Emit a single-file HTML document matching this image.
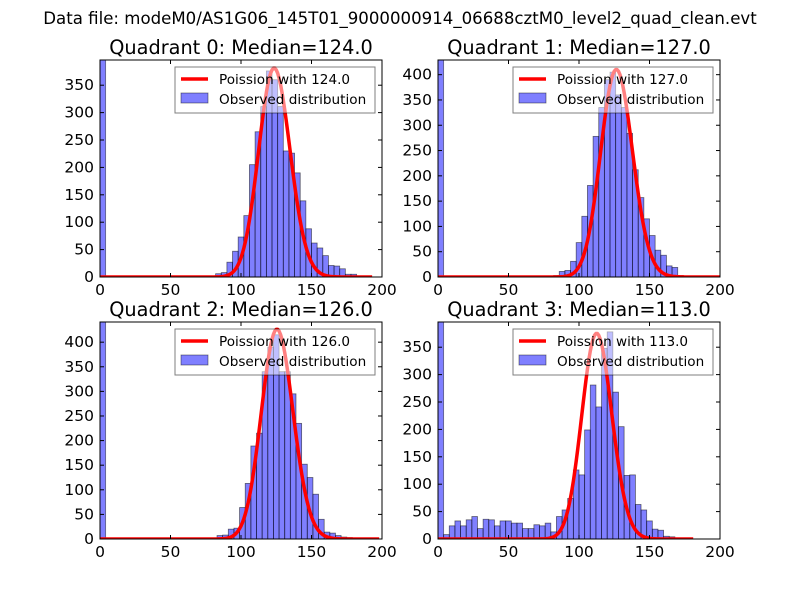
<!DOCTYPE html>
<html><head><meta charset="utf-8"><style>
html,body{margin:0;padding:0;background:#fff;}
svg{display:block;font-family:"DejaVu Sans","Liberation Sans",sans-serif;}
</style></head><body>
<svg id="fig" width="800" height="600" viewBox="0 0 800 600">
<rect width="800" height="600" fill="#fff"/>
<text x="400" y="24" text-anchor="middle" font-size="16.6">Data file: modeM0/AS1G06_145T01_9000000914_06688cztM0_level2_quad_clean.evt</text>
</svg>
<script>
// ---- data ----
const quadNames = ["Quadrant 0","Quadrant 1","Quadrant 2","Quadrant 3"];
const medians = [124.0, 127.0, 126.0, 113.0];
const yMaxes = [396, 429, 441, 396];
const firstBinStart = [82, 82, 83, 4];
const binWidth = 4;
const zeroBin = [1000, 1000, 1000, 1000];
const counts0 = [6,8,27,47,73,112,205,265,311,376,360,311,230,226,190,139,88,62,53,39,21,20,15,5,5];
const counts1 = [3,11,13,31,68,120,181,278,335,390,405,360,335,284,212,157,115,82,53,43,22,19,3];
const counts2 = [7,8,20,22,64,113,189,215,340,390,415,340,340,295,235,152,125,91,40,14,12,7,4,3];
const counts3 = [8,24,33,24,35,41,19,36,35,24,33,33,29,29,19,19,26,24,29,13,41,53,74,126,117,199,281,241,348,378,268,205,116,117,63,53,33,18,16,5,4,2,2];
const poissonPeak = [381, 410, 426, 375];
const poissonEnd = [193, 200, 198, 181];
const xTicks = [0,50,100,150,200];
const yTicksList = [[0,50,100,150,200,250,300,350],[0,50,100,150,200,250,300,350,400],[0,50,100,150,200,250,300,350,400],[0,50,100,150,200,250,300,350]];
const allCounts = [counts0, counts1, counts2, counts3];

const NS = "http://www.w3.org/2000/svg";
const svg = document.getElementById("fig");
function mk(tag, attrs, parent){
  const e = document.createElementNS(NS, tag);
  for (const k in attrs) e.setAttribute(k, attrs[k]);
  (parent||svg).appendChild(e);
  return e;
}
function lnGamma(z){
  let s = 0; for (let i = 2; i < z; i++) s += Math.log(i); return s;
}
const axL = [100, 438, 100, 438], axT = [60, 60, 322, 322], W = 282, H = 217;

for (let q = 0; q < 4; q++) {
  const L = axL[q], T = axT[q];
  const xs = v => L + v / 200 * W;
  const ys = v => T + H - Math.min(v, yMaxes[q] * 1.1) / yMaxes[q] * H;
  const g = mk("g", {});
  
  
  const clipId = "c" + q;
  const cp = mk("clipPath", {id: clipId}, g);
  mk("rect", {x: L, y: T, width: W, height: H}, cp);
  const plot = mk("g", {"clip-path": "url(#" + clipId + ")"}, g);
  const zb = mk("rect", {x: xs(0), y: ys(zeroBin[q]), width: xs(binWidth) - xs(0), height: T + H - ys(zeroBin[q]), fill: "rgba(0,0,255,0.5)", stroke: "#000", "stroke-opacity": 0.5, "stroke-width": 0.8}, plot);
  
  
  const c = allCounts[q];
  for (let i = 0; i < c.length; i++) {
    const x0 = firstBinStart[q] + i * binWidth;
    const r = mk("rect", {x: xs(x0), y: ys(c[i]), width: xs(x0 + binWidth) - xs(x0), height: T + H - ys(c[i]), fill: "rgba(0,0,255,0.5)", stroke: "#000", "stroke-opacity": 0.55, "stroke-width": 0.8}, plot);
    
    
  }
  const lam = medians[q];
  const mode = Math.floor(lam);
  const lmax = mode * Math.log(lam) - lam - lnGamma(mode + 1);
  let d = "";
  for (let k = 0; k <= poissonEnd[q]; k++) {
    const lv = k * Math.log(lam) - lam - lnGamma(k + 1);
    const v = poissonPeak[q] * Math.exp(lv - lmax);
    d += (k ? "L" : "M") + xs(k).toFixed(2) + "," + ys(v).toFixed(2);
  }
  const line = mk("path", {d: d, fill: "none", stroke: "#ff0000", "stroke-width": 3.5, "stroke-linejoin": "round"}, plot);
  
  
  const lg = mk("g", {}, g);
  
  
  mk("rect", {x: L + 75, y: T + 7, width: 200, height: 46, fill: "rgba(255,255,255,0.5)", stroke: "#000", "stroke-opacity": 0.5, "stroke-width": 1}, lg);
  mk("line", {x1: L + 81, x2: L + 108, y1: T + 19, y2: T + 19, stroke: "#ff0000", "stroke-width": 3.5}, lg);
  const t1 = mk("text", {x: L + 119, y: T + 24, "font-size": 13.6}, lg);
  t1.textContent = "Poission with " + medians[q].toFixed(1);
  
  
  mk("rect", {x: L + 81, y: T + 33, width: 27, height: 10, fill: "rgba(0,0,255,0.5)", stroke: "#000", "stroke-opacity": 0.5, "stroke-width": 0.8}, lg);
  const t2 = mk("text", {x: L + 119, y: T + 44, "font-size": 13.6}, lg);
  t2.textContent = "Observed distribution";
  
  
  mk("rect", {x: L, y: T, width: W, height: H, fill: "none", stroke: "#000", "stroke-width": 1}, g);
  for (const t of xTicks) {
    const x = xs(t);
    mk("line", {x1: x, x2: x, y1: T + H, y2: T + H - 4, stroke: "#000"}, g);
    mk("line", {x1: x, x2: x, y1: T, y2: T + 4, stroke: "#000"}, g);
    const tx = mk("text", {x: x, y: T + H + 18, "text-anchor": "middle", "font-size": 15.5}, g);
    tx.textContent = t;
    
    
  }
  for (const t of yTicksList[q]) {
    const y = ys(t);
    mk("line", {x1: L, x2: L + 4, y1: y, y2: y, stroke: "#000"}, g);
    mk("line", {x1: L + W, x2: L + W - 4, y1: y, y2: y, stroke: "#000"}, g);
    const ty = mk("text", {x: L - 6, y: y + 5, "text-anchor": "end", "font-size": 15.5}, g);
    ty.textContent = t;
    
    
  }
  const tt = mk("text", {x: L + W / 2, y: T - 6, "text-anchor": "middle", "font-size": 19.3}, g);
  tt.textContent = quadNames[q] + ": Median=" + medians[q].toFixed(1);
  
  
}
</script>
</body></html>
